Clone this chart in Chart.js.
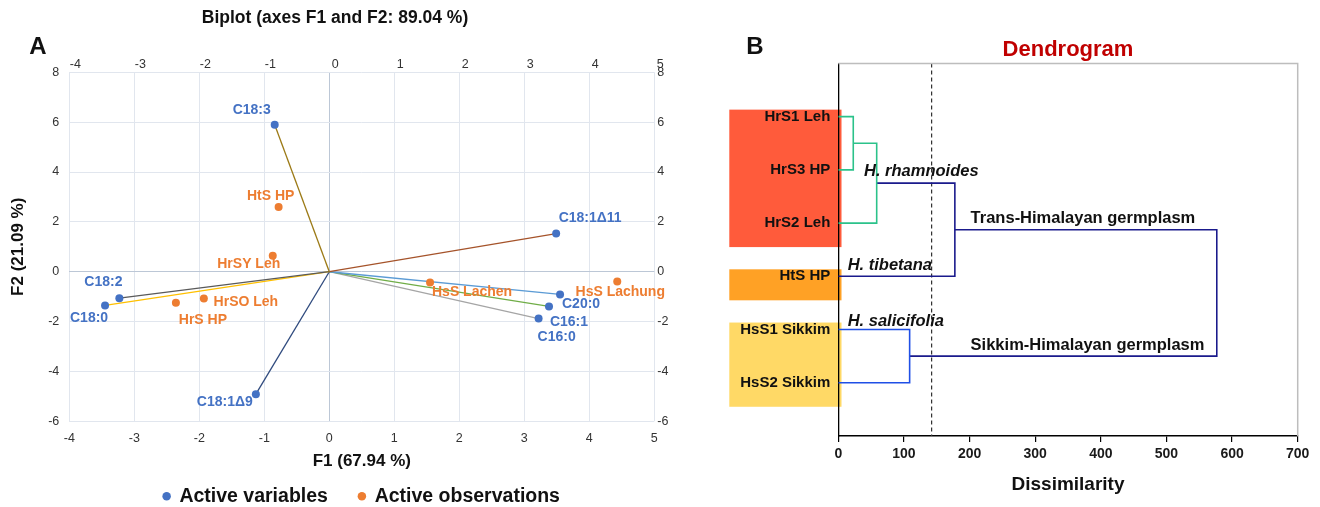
<!DOCTYPE html>
<html><head><meta charset="utf-8">
<script src="https://cdn.jsdelivr.net/npm/chart.js@4.4.1/dist/chart.umd.min.js"></script>
<style>
html,body{margin:0;padding:0;background:#fff;}
body{width:1320px;height:507px;position:relative;overflow:hidden;}
#ca{position:absolute;left:0;top:0;}
#cb{position:absolute;left:700px;top:0;}
</style></head><body>
<canvas id="ca" width="670" height="507"></canvas>
<canvas id="cb" width="620" height="507"></canvas>
<script>
// ---------------- DATA : Panel A (PCA biplot) ----------------
const variableNames = ['C18:3', 'C18:1\u039411', 'C18:2', 'C18:0', 'C18:1\u03949', 'C20:0', 'C16:1', 'C16:0'];
const variableF1 = [-0.84, 3.49, -3.23, -3.45, -1.13, 3.55, 3.38, 3.22];
const variableF2 = [5.90, 1.53, -1.06, -1.35, -4.91, -0.91, -1.39, -1.88];
const observationNames = ['HtS HP', 'HrSY Leh', 'HrSO Leh', 'HrS HP', 'HsS Lachen', 'HsS Lachung'];
const observationF1 = [-0.78, -0.87, -1.93, -2.36, 1.55, 4.43];
const observationF2 = [2.60, 0.64, -1.07, -1.24, -0.43, -0.39];
const f1Ticks = [-4, -3, -2, -1, 0, 1, 2, 3, 4, 5];
const f2Ticks = [-6, -4, -2, 0, 2, 4, 6, 8];

// ---------------- DATA : Panel B (dendrogram) ----------------
const leaves = ['HrS1 Leh', 'HrS3 HP', 'HrS2 Leh', 'HtS HP', 'HsS1 Sikkim', 'HsS2 Sikkim'];
// merge k creates node (leaves.length + k) from mergeLeft[k] and mergeRight[k]
const mergeLeft = [0, 6, 7, 4, 8];
const mergeRight = [1, 2, 3, 5, 9];
const mergeHeight = [22.8, 58.5, 177.6, 108.7, 576.7];
const truncationLevel = 142.2;
const dissimilarityTicks = [0, 100, 200, 300, 400, 500, 600, 700];
const clusterNames = ['H. rhamnoides', 'H. tibetana', 'H. salicifolia'];
const germplasmNames = ['Trans-Himalayan germplasm', 'Sikkim-Himalayan germplasm'];

// ---------------- STYLES ----------------
const FONT = '"Liberation Sans", Arial, Helvetica, sans-serif';
Chart.defaults.font.family = FONT;
const BLUE = '#4472C4', ORANGE = '#ED7D31';
const vectorColors = ['#9C7A16', '#A5532A', '#5A5A5A', '#FFC000', '#2F4A7E', '#5B9BD5', '#70AD47', '#A5A5A5'];
const variableLabelOffsets = [[-23, -15], [34, -15], [-16, -16], [-16, 13], [-31, 8], [21, 10], [20, 16], [18, 19]];
const observationLabelOffsets = [[-8, -11], [-24, 8], [42, 4], [27, 18], [42, 10], [3, 11]];
const mergeColors = ['#2BC28A', '#2BC28A', '#1A1A8C', '#1F4FE6', '#1A1A8C'];
const groups = [
  {first: 0, last: 2, color: '#FF5B3B'},
  {first: 3, last: 3, color: '#FFA125'},
  {first: 4, last: 5, color: '#FFD966'}
];
// annotation anchors in axis units (dissimilarity, leaf position)
const clusterLabelAt = [[39.1, 2.03], [14.3, 3.80], [14.3, 4.84]];
const germplasmLabelAt = [[201.6, 2.91], [201.6, 5.30]];

// ================= PANEL A =================
const vectorDatasets = variableNames.map((n, i) => ({
  label: n + ' vector',
  data: [{x: 0, y: 0}, {x: variableF1[i], y: variableF2[i]}],
  showLine: true, borderColor: vectorColors[i], borderWidth: 1.3,
  pointRadius: 0, order: 2
}));

const gridColor = c => (c.tick && c.tick.value === 0) ? '#BCC7D6' : '#E1E6EE';

const labelPluginA = {
  id: 'labelsA',
  afterDatasetsDraw(chart) {
    const ctx = chart.ctx;
    ctx.save();
    ctx.font = 'bold 14px ' + FONT;
    ctx.textAlign = 'center';
    ctx.textBaseline = 'middle';
    [[0, variableNames, variableLabelOffsets, BLUE], [1, observationNames, observationLabelOffsets, ORANGE]].forEach(([di, names, offs, col]) => {
      ctx.fillStyle = col;
      chart.getDatasetMeta(di).data.forEach((pt, i) => {
        ctx.fillText(names[i], pt.x + offs[i][0], pt.y + offs[i][1]);
      });
    });
    ctx.fillStyle = '#111';
    ctx.font = 'bold 24px ' + FONT;
    ctx.fillText('A', 38, 47);
    ctx.restore();
  }
};

new Chart(document.getElementById('ca'), {
  type: 'scatter',
  data: {
    datasets: [
      {label: 'Active variables', data: variableF1.map((x, i) => ({x, y: variableF2[i]})),
       backgroundColor: BLUE, borderWidth: 0, pointRadius: 4, order: 0},
      {label: 'Active observations', data: observationF1.map((x, i) => ({x, y: observationF2[i]})),
       backgroundColor: ORANGE, borderWidth: 0, pointRadius: 4, order: 1},
      ...vectorDatasets
    ]
  },
  options: {
    responsive: false, animation: false, events: [],
    layout: {padding: {top: 0, left: 0, right: 0, bottom: -9}},
    plugins: {
      tooltip: {enabled: false},
      title: {display: true, text: 'Biplot (axes F1 and F2: 89.04 %)', color: '#111',
              font: {size: 17.5, weight: 'bold'}, padding: {top: 8, bottom: 0}},
      legend: {
        display: true, position: 'bottom', fullSize: false,
        labels: {
          usePointStyle: true, pointStyle: 'circle', boxWidth: 6, boxHeight: 6,
          padding: 31, color: '#111', font: {size: 19.5, weight: 'bold'},
          filter: item => item.datasetIndex < 2
        }
      }
    },
    scales: {
      x: {
        type: 'linear', position: 'bottom', min: -4, max: 5,
        afterBuildTicks: s => { s.ticks = f1Ticks.map(v => ({value: v})); },
        ticks: {color: '#333', font: {size: 12.5}, padding: 10},
        grid: {color: gridColor, drawTicks: false},
        border: {display: false},
        title: {display: true, text: 'F1 (67.94 %)', color: '#111', font: {size: 17, weight: 'bold'},
                padding: {top: 0, bottom: -16.4}},
        afterFit: s => { s.height = 34.2; }
      },
      x2: {
        type: 'linear', position: 'top', min: -4, max: 5,
        afterBuildTicks: s => { s.ticks = f1Ticks.map(v => ({value: v})); },
        ticks: {color: '#333', font: {size: 12.5}, padding: 0, labelOffset: 6},
        grid: {display: false, drawTicks: false},
        border: {display: false},
        afterFit: s => { s.height = 43.3; }
      },
      y: {
        type: 'linear', position: 'left', min: -6, max: 8,
        afterBuildTicks: s => { s.ticks = f2Ticks.map(v => ({value: v})); },
        ticks: {color: '#333', font: {size: 12.5}, padding: 10},
        grid: {color: gridColor, drawTicks: false},
        border: {display: false},
        title: {display: true, text: 'F2 (21.09 %)', color: '#111', font: {size: 17, weight: 'bold'},
                padding: {top: 7.8, bottom: 0}},
        afterFit: s => { s.width = 69.3; }
      },
      y2: {
        type: 'linear', position: 'right', min: -6, max: 8,
        afterBuildTicks: s => { s.ticks = f2Ticks.map(v => ({value: v})); },
        ticks: {color: '#333', font: {size: 12.5}, padding: 3},
        grid: {display: false, drawTicks: false},
        border: {display: false},
        afterFit: s => { s.width = 15.7; }
      }
    }
  },
  plugins: [labelPluginA]
});

// ================= PANEL B =================
const nodes = leaves.map((_, i) => ({y: i + 1, h: 0}));
const linkDatasets = [];
mergeLeft.forEach((l, k) => {
  const a = nodes[l], b = nodes[mergeRight[k]], h = mergeHeight[k];
  nodes.push({y: (a.y + b.y) / 2, h});
  linkDatasets.push({
    label: 'merge ' + (k + 1),
    data: [{x: a.h, y: a.y}, {x: h, y: a.y}, {x: h, y: b.y}, {x: b.h, y: b.y}],
    showLine: true, borderColor: mergeColors[k], borderWidth: 1.6,
    pointRadius: 0, tension: 0, fill: false
  });
});
linkDatasets.push({
  label: 'truncation',
  data: [{x: truncationLevel, y: 0}, {x: truncationLevel, y: leaves.length + 1}],
  showLine: true, borderColor: '#333', borderWidth: 1.2, borderDash: [4, 3],
  pointRadius: 0
});

const plotPluginB = {
  id: 'decorB',
  beforeDraw(chart) {
    const ctx = chart.ctx, ys = chart.scales.y, area = chart.chartArea;
    ctx.save();
    groups.forEach(g => {
      const top = ys.getPixelForValue(g.first + 1) - 7;
      const bottom = ys.getPixelForValue(g.last + 1) + 24;
      ctx.fillStyle = g.color;
      ctx.fillRect(area.left - 109, top, 112.2, bottom - top);
    });
    ctx.restore();
  },
  afterDraw(chart) {
    const ctx = chart.ctx, xs = chart.scales.x, ys = chart.scales.y, area = chart.chartArea;
    ctx.save();
    ctx.strokeStyle = '#BDBDBD';
    ctx.lineWidth = 1.5;
    ctx.beginPath();
    ctx.moveTo(area.left, area.top);
    ctx.lineTo(area.right, area.top);
    ctx.lineTo(area.right, area.bottom);
    ctx.stroke();
    ctx.textAlign = 'left';
    ctx.textBaseline = 'middle';
    ctx.fillStyle = '#111';
    ctx.font = 'italic bold 16.5px ' + FONT;
    clusterNames.forEach((t, i) => {
      ctx.fillText(t, xs.getPixelForValue(clusterLabelAt[i][0]), ys.getPixelForValue(clusterLabelAt[i][1]));
    });
    ctx.font = 'bold 16.5px ' + FONT;
    germplasmNames.forEach((t, i) => {
      ctx.fillText(t, xs.getPixelForValue(germplasmLabelAt[i][0]), ys.getPixelForValue(germplasmLabelAt[i][1]));
    });
    ctx.textAlign = 'center';
    ctx.font = 'bold 24px ' + FONT;
    ctx.fillText('B', 55, 47.5);
    ctx.restore();
  }
};

new Chart(document.getElementById('cb'), {
  type: 'scatter',
  data: {datasets: linkDatasets},
  options: {
    responsive: false, animation: false, events: [],
    layout: {padding: {top: 0, left: 0, right: 22.3, bottom: 0}},
    plugins: {
      tooltip: {enabled: false},
      legend: {display: false},
      title: {display: true, text: 'Dendrogram', color: '#C00000', fullSize: false,
              font: {size: 22, weight: 'bold'}, padding: {top: 37, bottom: 0}}
    },
    scales: {
      x: {
        type: 'linear', position: 'bottom', min: 0, max: 700,
        afterBuildTicks: s => { s.ticks = dissimilarityTicks.map(v => ({value: v})); },
        ticks: {color: '#1a1a1a', font: {size: 14, weight: 'bold'}, padding: 4},
        grid: {display: true, drawOnChartArea: false, drawTicks: true, tickLength: 6, color: '#000', lineWidth: 1.2},
        border: {display: true, color: '#000', width: 1.5},
        title: {display: true, text: 'Dissimilarity', color: '#111', font: {size: 19, weight: 'bold'},
                padding: {top: 0, bottom: 10.6}},
        afterFit: s => { s.height = 71; }
      },
      y: {
        type: 'linear', position: 'left', min: 0, max: leaves.length + 1, reverse: true,
        afterBuildTicks: s => { s.ticks = leaves.map((_, i) => ({value: i + 1})); },
        ticks: {color: '#111', font: {size: 15, weight: 'bold'}, padding: 8,
                callback: v => leaves[v - 1]},
        grid: {display: false, drawTicks: false},
        border: {display: true, color: '#000', width: 1.3},
        afterFit: s => { s.width = 138.3; }
      }
    }
  },
  plugins: [plotPluginB]
});
</script>
</body></html>
